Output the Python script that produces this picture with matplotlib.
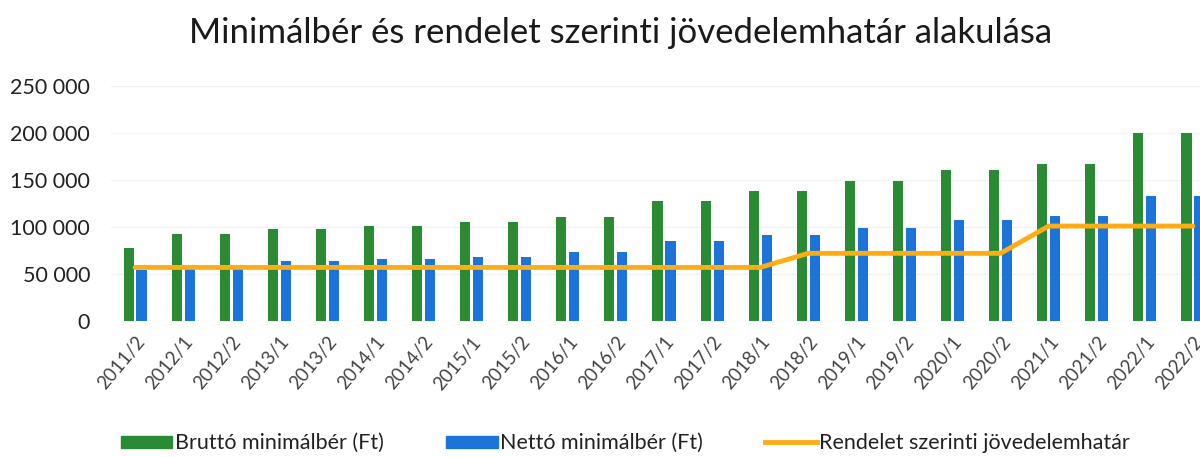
import numpy as np
import matplotlib
matplotlib.use("Agg")
import matplotlib.pyplot as plt
from matplotlib.patches import Patch
from matplotlib.lines import Line2D

plt.rcParams['font.family'] = ['Lato', 'DejaVu Sans']

# data
periods = ['2011/2', '2012/1', '2012/2', '2013/1', '2013/2', '2014/1', '2014/2',
           '2015/1', '2015/2', '2016/1', '2016/2', '2017/1', '2017/2', '2018/1',
           '2018/2', '2019/1', '2019/2', '2020/1', '2020/2', '2021/1', '2021/2',
           '2022/1', '2022/2']
brutto = [78000, 93000, 93000, 98000, 98000, 101500, 101500, 105000, 105000,
          111000, 111000, 127500, 127500, 138000, 138000, 149000, 149000,
          161000, 161000, 167400, 167400, 200000, 200000]
netto = [54000, 60000, 60000, 63700, 63700, 66000, 66000, 68250, 68250,
         73800, 73800, 84800, 84800, 91800, 91800, 99100, 99100,
         107100, 107100, 111300, 111300, 133000, 133000]
hatar = [57000, 57000, 57000, 57000, 57000, 57000, 57000, 57000, 57000,
         57000, 57000, 57000, 57000, 57000, 72000, 72000, 72000, 72000,
         72000, 101000, 101000, 101000, 101000]
yticks = [0, 50000, 100000, 150000, 200000, 250000]

green = '#2b8a34'
blue = '#1c74d8'
orange = '#ffad14'

fig = plt.figure(figsize=(12, 4.57), dpi=100)
# axes run past the right edge, like the cropped original
ax = fig.add_axes([111 / 1200, 136 / 457, 1106 / 1200, 235 / 457])

x = np.arange(len(periods)) + 0.5
w = 0.21
ax.bar(x - 0.135, brutto, width=w, color=green, zorder=2)
ax.bar(x + 0.135, netto, width=w, color=blue, zorder=2)
ax.plot(x, hatar, color=orange, lw=3.5, zorder=3, solid_capstyle='round')

ax.set_xlim(0, len(periods))
ax.set_ylim(0, 250000)
ax.set_yticks(yticks)
ax.set_yticklabels([f'{v:,}'.replace(',', ' ') for v in yticks], fontsize=15.5, color='#222222')
ax.set_xticks(x)
ax.set_xticklabels(periods, rotation=50, ha='right', rotation_mode='anchor',
                   fontsize=13.5, color='#444444')
ax.tick_params(axis='x', length=0, pad=9)
ax.tick_params(axis='y', length=0, pad=15)
ax.grid(axis='y', color='#f2f2f2', lw=1, zorder=0)
for s in ax.spines.values():
    s.set_visible(False)

fig.text(0.517, 0.928, 'Minimálbér és rendelet szerinti jövedelemhatár alakulása',
         ha='center', va='center', fontsize=25, color='#1a1a1a')

handles = [Patch(color=green), Patch(color=blue), Line2D([], [], color=orange, lw=3.5)]
labels = ['Bruttó minimálbér (Ft)', 'Nettó minimálbér (Ft)', 'Rendelet szerinti jövedelemhatár']
fig.legend(handles, labels, loc='center', bbox_to_anchor=(0.521, 0.03), ncol=3,
           frameon=False, fontsize=15.5, handlelength=2.4, handleheight=0.5,
           handletextpad=0.1, columnspacing=2.9, labelcolor='#222222')

fig.savefig('out.png', dpi=100)
